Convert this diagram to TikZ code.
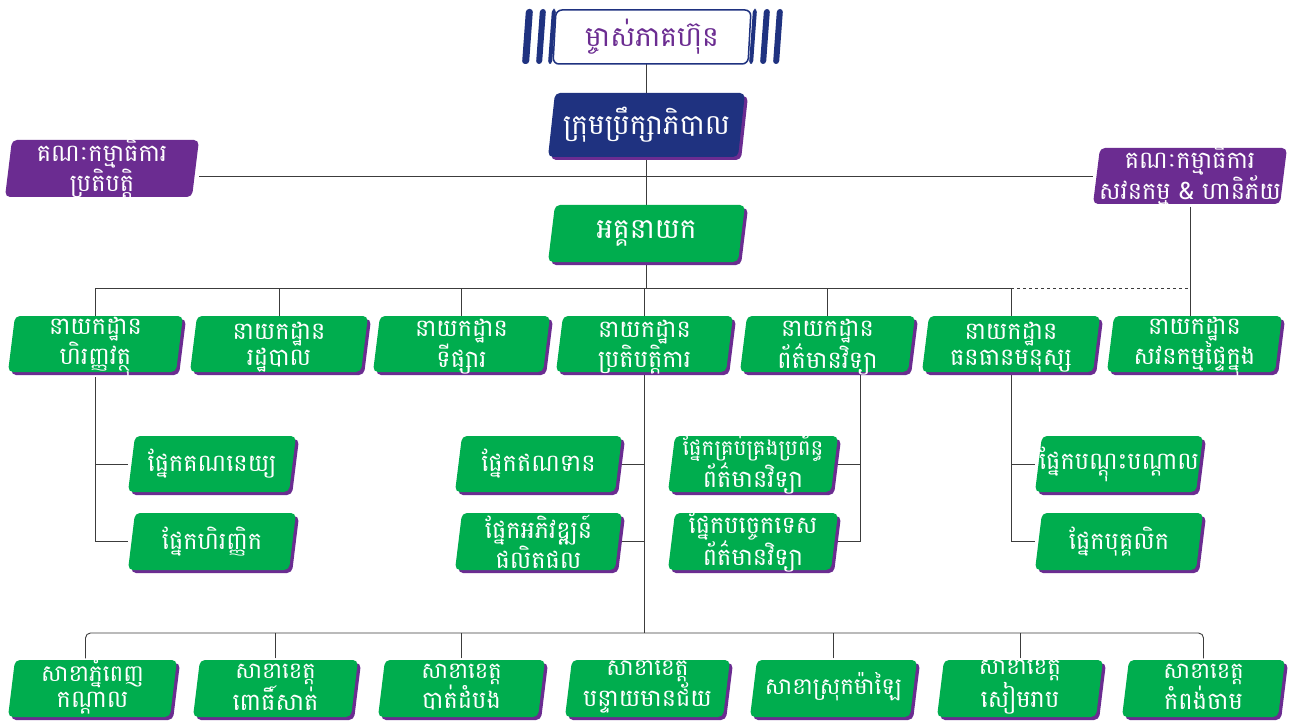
\documentclass[tikz,border=0pt]{standalone}
\usepackage{fontspec}
\newfontfamily\khmer[Script=Khmer]{Battambang}
\usetikzlibrary{backgrounds}
\definecolor{kgreen}{RGB}{0,173,78}
\definecolor{kpurple}{RGB}{107,44,145}
\definecolor{knavy}{RGB}{31,50,128}
\definecolor{kline}{RGB}{60,60,60}
\def\kshift{0pt}
\newcommand\slab[6][7]{\fill[#2,rounded corners=5pt] ({#3+#1},#4) -- (#5,#4) -- ({#5-#1},#6) -- (#3,#6) -- cycle;}
\newcommand\kbox[7][kgreen]{%
  \slab{kpurple}{#3+3}{#4+3}{#5+3}{#6+3}%
  \slab{#1}{#3}{#4}{#5}{#6}%
  \node[boxtext, minimum width={#5-#3}, minimum height={#6-#4}, yshift=\kshift] (#2) at ({(#3+#5)/2},{(#4+#6)/2}) {#7};}
\newcommand\pbox[6]{%
  \slab{kpurple}{#2}{#3}{#4}{#5}%
  \node[boxtext, minimum width={#4-#2}, minimum height={#5-#3}] (#1) at ({(#2+#4)/2},{(#3+#5)/2}) {#6};}
\tikzset{
  boxtext/.style={inner sep=0pt, text=white, align=center, font=\khmer\fontsize{24}{26}\selectfont},
  conn/.style={draw=kline, line width=0.9pt},
}
\begin{document}
\begin{tikzpicture}[x=1pt,y=-1pt]
\useasboundingbox (0,0) rectangle (1295,722);
% top owner box
\foreach \a/\b in {522/533,536/546,548/556,749/757,760/770,773/783}{
  \fill[knavy, rounded corners=3pt] ({\a+4},9) -- (\b,9) -- ({\b-4},64) -- (\a,64) -- cycle;}
\fill[white, rounded corners=6pt] (556,10) -- (751,10) -- (748,64) -- (553,64) -- cycle;
\draw[knavy, line width=1.5pt, rounded corners=6pt] (556,10) -- (751,10) -- (748,64) -- (553,64) -- cycle;
\node[boxtext, text=kpurple, minimum width=195, minimum height=54, font=\khmer\fontsize{28}{30}\selectfont] (own) at (652,37) {ម្ចាស់ភាគហ៊ុន};
\kbox[knavy]{board}{548}{93}{745}{157}{\fontsize{28}{30}\selectfont ក្រុមប្រឹក្សាភិបាល}
\pbox{lc}{5}{140}{199}{197}{គណៈកម្មាធិការ\\ប្រតិបត្តិ}
\pbox{rc}{1093}{148}{1287}{204}{គណៈកម្មាធិការ\\សវនកម្ម \& ហានិភ័យ}
\kbox{ceo}{548}{205}{745}{262}{\fontsize{28}{30}\selectfont អគ្គនាយក}
% departments
\def\kshift{-3pt}
\kbox{d1}{8}{316}{183}{372}{នាយកដ្ឋាន\\ហិរញ្ញវត្ថុ}
\kbox{d2}{190}{316}{368}{372}{នាយកដ្ឋាន\\រដ្ឋបាល}
\kbox{d3}{373}{316}{550}{372}{នាយកដ្ឋាន\\ទីផ្សារ}
\kbox{d4}{556}{316}{733}{372}{នាយកដ្ឋាន\\ប្រតិបត្តិការ}
\kbox{d5}{740}{316}{915}{372}{នាយកដ្ឋាន\\ព័ត៌មានវិទ្យា}
\kbox{d6}{922}{316}{1100}{372}{នាយកដ្ឋាន\\ធនធានមនុស្ស}
\kbox{d7}{1107}{316}{1282}{372}{នាយកដ្ឋាន\\សវនកម្មផ្ទៃក្នុង}
\def\kshift{0pt}
% sections
\kbox{s1}{128}{436}{296}{492}{ផ្នែកគណនេយ្យ}
\kbox{s2}{128}{513}{296}{570}{ផ្នែកហិរញ្ញិក}
\kbox{s3}{455}{436}{622}{492}{ផ្នែកឥណទាន}
\kbox{s4}{455}{513}{622}{570}{ផ្នែកអភិវឌ្ឍន៍\\ផលិតផល}
\kbox{s5}{668}{436}{838}{492}{\fontsize{21.5}{26}\selectfont ផ្នែកគ្រប់គ្រងប្រព័ន្ធ\\ព័ត៌មានវិទ្យា}
\kbox{s6}{668}{513}{838}{570}{ផ្នែកបច្ចេកទេស\\ព័ត៌មានវិទ្យា}
\kbox{s7}{1035}{436}{1203}{492}{ផ្នែកបណ្តុះបណ្តាល}
\kbox{s8}{1035}{513}{1203}{570}{ផ្នែកបុគ្គលិក}
% branches
\def\kshift{1.5pt}
\kbox{b1}{8}{660}{177}{717}{\fontsize{23}{23.5}\selectfont សាខាភ្នំពេញ\\កណ្តាល}
\kbox{b2}{193}{660}{358}{717}{\fontsize{22.5}{23.5}\selectfont សាខាខេត្ត\\ពោធិ៍សាត់}
\kbox{b3}{378}{660}{545}{717}{\fontsize{22.5}{23.5}\selectfont សាខាខេត្ត\\បាត់ដំបង}
\kbox{b4}{565}{660}{730}{717}{\fontsize{23}{23.5}\selectfont សាខាខេត្ត\\បន្ទាយមានជ័យ}
\kbox{b5}{750}{660}{917}{717}{\fontsize{23}{23.5}\selectfont សាខាស្រុកម៉ាឡៃ}
\kbox{b6}{937}{660}{1103}{717}{\fontsize{23}{23.5}\selectfont សាខាខេត្ត\\សៀមរាប}
\kbox{b7}{1122}{660}{1285}{717}{\fontsize{22.5}{23.5}\selectfont សាខាខេត្ត\\កំពង់ចាម}
\def\kshift{0pt}
\coordinate (bus) at (0,288);
\coordinate (bus2) at (0,633);
\coordinate (itv) at (860,372);
\begin{scope}[on background layer]
\fill[white] (0,0) rectangle (1295,722);
\draw[conn] (board.north |- own.south) -- (board.north);
\draw[conn] (board.south) -- (ceo.north);
\draw[conn] (lc.east |- rc.west) -- (rc.west);
\draw[conn] (ceo.south) -- (ceo.south |- bus);
\draw[conn] (d1.north) |- (d6.north |- bus) -- (d6.north);
\foreach \d in {d2,d3,d4,d5}{\draw[conn] (\d.north) -- (\d.north |- bus);}
\draw[conn, dashed, dash pattern=on 3pt off 3pt] (d6.north |- bus) -- (rc.south |- bus);
\draw[conn] (rc.south) -- (rc.south |- d7.north);
\draw[conn] (d1.south) |- (s1.west);
\draw[conn] (d1.south) |- (s2.west);
\draw[conn] (d4.south) -- (d4.south |- bus2);
\draw[conn] (s3.east) -- (s3.east -| d4.south);
\draw[conn] (s4.east) -- (s4.east -| d4.south);
\draw[conn] (itv) |- (s6.east);
\draw[conn] (s5.east) -- (s5.east -| itv);
\draw[conn] (d6.south) |- (s7.west);
\draw[conn] (d6.south) |- (s8.west);
\draw[conn, rounded corners=5pt] ([xshift=-7pt]b1.north) |- (b4.north |- bus2) -| (b7.north);
\foreach \b in {b2,b3,b5,b6}{\draw[conn] (\b.north) -- (\b.north |- bus2);}
\end{scope}
\end{tikzpicture}
\end{document}
